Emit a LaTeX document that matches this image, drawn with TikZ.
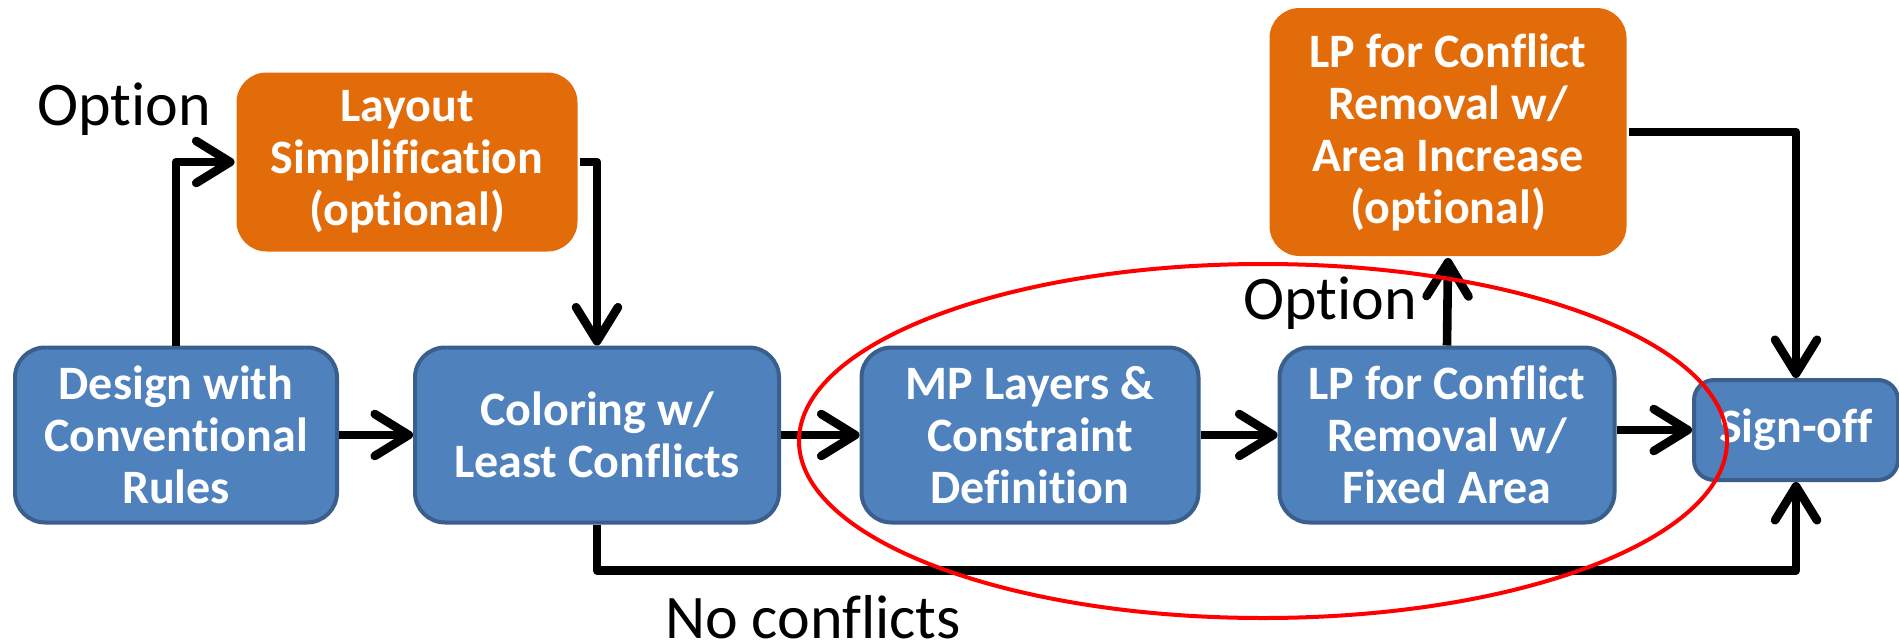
\documentclass[tikz,border=0pt]{standalone}
\usepackage{fontspec}
\setmainfont{Carlito}[Ligatures=NoCommon]
\usetikzlibrary{arrows.meta, positioning}

\definecolor{boxblue}{HTML}{4F81BD}
\definecolor{boxedge}{HTML}{3A5F8C}
\definecolor{boxorange}{HTML}{E36C0A}

\begin{document}
\begin{tikzpicture}[x=0.5pt, y=-0.5pt,
    stepbox/.style={draw=boxedge, line width=2pt, fill=boxblue, rounded corners=15pt,
      text=white, align=center, inner sep=0pt, minimum height=87.5pt,
      font=\bfseries\fontsize{24}{26}\selectfont},
    optbox/.style={stepbox, draw=none, fill=boxorange},
    arr/.style={line width=4.3pt, line join=round,
      -{Straight Barb[length=17pt, width=21pt, line width=4.3pt, round]}},
    lbl/.style={font=\fontsize{31}{36}\selectfont, inner sep=0pt}]
    \useasboundingbox (0,0) rectangle (1899,643);
    % main flow
    \node[stepbox, minimum width=161pt] (design) at (176,435) {Design with\\Conventional\\Rules};
    \node[stepbox, minimum width=182pt] (coloring) at (597,435) {Coloring w/\\Least Conflicts};
    \node[stepbox, minimum width=168.5pt] (mplayers) at (1030,435) {MP Layers \&\\Constraint\\Definition};
    \node[stepbox, minimum width=167.5pt] (lpfixed) at (1447,435) {LP for Conflict\\Removal w/\\Fixed Area};
    \node[stepbox, minimum width=102pt, minimum height=50pt, rounded corners=10pt] (signoff) at (1796,430) {Sign-off};
    % optional steps
    \node[optbox, minimum width=170.5pt, minimum height=89.5pt] (simplify) at (407,162) {Layout\\Simplification\\(optional)};
    \node[optbox, minimum width=178.5pt, minimum height=124pt] (lparea) at (1448,132) {LP for Conflict\\Removal w/\\Area Increase\\(optional)};
    % labels
    \node[lbl] (opt1) at (124,109) {Option};
    \node[lbl] (opt2) at (1330,303) {Option};
    \node[lbl] (noconf) at (813,617) {No conflicts};
    % connectors
    \draw[arr] (design) -- (coloring);
    \draw[arr] (coloring) -- (mplayers);
    \draw[arr] (mplayers) -- (lpfixed);
    \draw[arr] (lpfixed.east |- signoff.west) -- (signoff.west);
    \draw[arr] (design.north) |- (simplify.west);
    \draw[arr] (simplify.east) -| (coloring.north);
    \draw[arr] (lpfixed.north) -- (lparea.south);
    \draw[arr] (lparea.east) -| (signoff.north);
    \draw[arr] (coloring.south) -- ++(0,46) -| (signoff.south);
    % highlight
    \draw[red, line width=2pt] (1263,441) ellipse [x radius=464, y radius=177];
\end{tikzpicture}
\end{document}
